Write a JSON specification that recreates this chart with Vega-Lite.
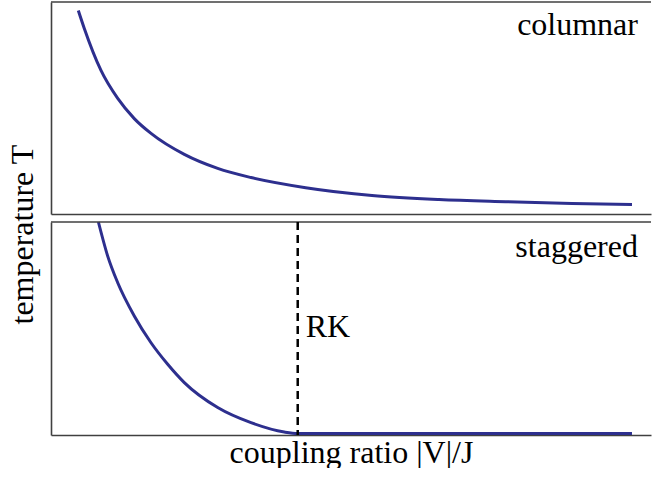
{
  "$schema": "https://vega.github.io/schema/vega-lite/v6.json",
  "padding": {"left": 7, "top": 1, "right": 0, "bottom": 0},
  "background": "white",
  "title": {"text": "temperature T", "orient": "left", "anchor": "middle", "fontSize": 32, "font": "Liberation Serif", "fontWeight": "normal", "color": "black", "offset": 10},
  "spacing": 2,
  "datasets": {
    "columnar": [
      {"x": 0.455, "y": 9.60},
      {"x": 0.555, "y": 8.75},
      {"x": 0.833, "y": 6.77},
      {"x": 1.112, "y": 5.45},
      {"x": 1.388, "y": 4.50},
      {"x": 1.667, "y": 3.80},
      {"x": 2.222, "y": 2.81},
      {"x": 2.778, "y": 2.15},
      {"x": 3.333, "y": 1.72},
      {"x": 4.245, "y": 1.24},
      {"x": 5.35, "y": 0.87},
      {"x": 6.467, "y": 0.68},
      {"x": 7.578, "y": 0.58},
      {"x": 8.683, "y": 0.50},
      {"x": 9.683, "y": 0.45}
    ],
    "staggered": [
      {"x": 0.79, "y": 10.0},
      {"x": 0.945, "y": 8.40},
      {"x": 1.112, "y": 7.15},
      {"x": 1.388, "y": 5.59},
      {"x": 1.667, "y": 4.33},
      {"x": 1.945, "y": 3.32},
      {"x": 2.222, "y": 2.46},
      {"x": 2.778, "y": 1.29},
      {"x": 3.333, "y": 0.58},
      {"x": 3.888, "y": 0.14},
      {"x": 4.112, "y": 0.07},
      {"x": 9.683, "y": 0.07}
    ],
    "one": [{}]
  },
  "vconcat": [
    {
      "width": 600,
      "height": 212,
      "layer": [
        {
          "data": {"name": "columnar"},
          "mark": {"type": "line", "color": "#2d2f8e", "strokeWidth": 3, "interpolate": "monotone"},
          "encoding": {
            "x": {"field": "x", "type": "quantitative", "scale": {"domain": [0, 10]}, "axis": {"domain": true, "domainColor": "#404040", "domainWidth": 1.6, "ticks": false, "labels": false, "grid": false, "title": null}},
            "y": {"field": "y", "type": "quantitative", "scale": {"domain": [0, 10]}, "axis": {"domain": true, "domainColor": "#404040", "domainWidth": 1.6, "ticks": false, "labels": false, "grid": false, "title": null}}
          }
        },
        {
          "data": {"name": "one"},
          "mark": {"type": "rule", "color": "#404040", "strokeWidth": 1.6},
          "encoding": {"y": {"datum": 10}}
        },
        {
          "data": {"name": "one"},
          "mark": {"type": "text", "text": "columnar", "align": "right", "baseline": "alphabetic", "font": "Liberation Serif", "fontSize": 32, "color": "black"},
          "encoding": {"x": {"datum": 9.783}, "y": {"datum": 8.42}}
        }
      ]
    },
    {
      "width": 600,
      "height": 213,
      "layer": [
        {
          "data": {"name": "staggered"},
          "mark": {"type": "line", "color": "#2d2f8e", "strokeWidth": 3, "interpolate": "monotone"},
          "encoding": {
            "x": {"field": "x", "type": "quantitative", "scale": {"domain": [0, 10]}, "axis": {"domain": true, "domainColor": "#404040", "domainWidth": 1.6, "ticks": false, "labels": false, "grid": false, "title": "coupling ratio |V|/J", "titleFont": "Liberation Serif", "titleFontSize": 32, "titleFontWeight": "normal", "titleColor": "black", "titlePadding": 2}},
            "y": {"field": "y", "type": "quantitative", "scale": {"domain": [0, 10]}, "axis": {"domain": true, "domainColor": "#404040", "domainWidth": 1.6, "ticks": false, "labels": false, "grid": false, "title": null}}
          }
        },
        {
          "data": {"name": "one"},
          "mark": {"type": "rule", "color": "#404040", "strokeWidth": 1.6},
          "encoding": {"y": {"datum": 10}}
        },
        {
          "data": {"name": "one"},
          "mark": {"type": "rule", "color": "black", "strokeWidth": 2.5, "strokeDash": [8, 5]},
          "encoding": {"x": {"datum": 4.112}}
        },
        {
          "data": {"name": "one"},
          "mark": {"type": "text", "text": "staggered", "align": "right", "baseline": "alphabetic", "font": "Liberation Serif", "fontSize": 32, "color": "black"},
          "encoding": {"x": {"datum": 9.783}, "y": {"datum": 8.36}}
        },
        {
          "data": {"name": "one"},
          "mark": {"type": "text", "text": "RK", "align": "left", "baseline": "alphabetic", "font": "Liberation Serif", "fontSize": 32, "color": "black"},
          "encoding": {"x": {"datum": 4.245}, "y": {"datum": 4.6}}
        }
      ]
    }
  ],
  "config": {"view": {"stroke": null}, "font": "Liberation Serif"}
}
